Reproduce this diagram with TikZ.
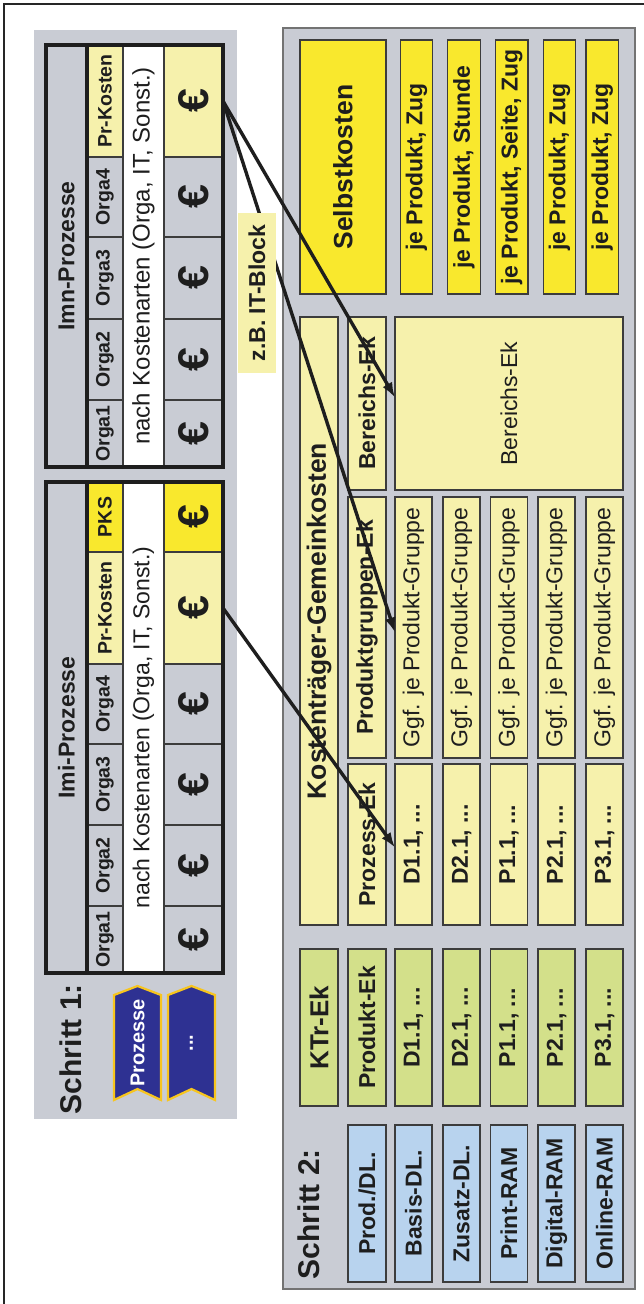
\documentclass[tikz,border=0pt]{standalone}
\usepackage{fontspec}
\setmainfont{Liberation Sans}
\usepackage{graphicx}
\usetikzlibrary{arrows.meta}
\definecolor{panel}{HTML}{C9CCD4}
\definecolor{paleyellow}{HTML}{F6F1AC}
\definecolor{sunyellow}{HTML}{F9E82D}
\definecolor{lime}{HTML}{D3E08A}
\definecolor{sky}{HTML}{B8D3EE}
\definecolor{navy}{HTML}{2E3192}
\definecolor{gold}{HTML}{F7C51E}
\definecolor{ink}{HTML}{1E1E1E}
\definecolor{rule}{HTML}{3C3C3C}
\newcommand{\vtext}[1]{\rotatebox{90}{#1}}

\begin{document}
\begin{tikzpicture}[
  x=1pt,y=-1pt,
  every node/.style={inner sep=0pt,outer sep=0pt,text=ink},
  box/.style={draw=rule,line width=1.3pt,font=\fontsize{23}{25}\selectfont\bfseries},
  col/.style={box,minimum width=37pt},
  tcell/.style={draw=rule,line width=1.1pt,fill=panel,font=\fontsize{19.5}{21}\selectfont\bfseries},
  orga/.style={tcell,minimum width=36pt},
  euro/.style={tcell,minimum width=59pt,font=\fontsize{43}{43}\selectfont\bfseries},
  tblframe/.style={draw=ink,line width=3.3pt},
  ribbon/.style={fill=navy,draw=gold,line width=2.2pt,line join=miter},
  schritt/.style={font=\fontsize{30}{32}\selectfont\bfseries},
  conn/.style={-{Latex[length=15pt,width=11pt]},draw=ink,line width=3.4pt}
]
\useasboundingbox (0,0) rectangle (644,1304);
\draw[line width=1.3pt,black!85] (4,1304) -- (4,4) -- (644,4);

% Schritt 1
\fill[panel] (34,30) rectangle (237,1119);
\node[schritt] (s1) at (71,1049) {\vtext{Schritt 1:}};

% Imn-Prozesse
\node[tcell,minimum width=41pt,minimum height=422pt,font=\fontsize{23}{25}\selectfont\bfseries] (imnHead) at (66.5,256) {\vtext{Imn-Prozesse}};
\node[orga,fill=paleyellow,minimum height=112pt] (imnPK) at (105,101) {\vtext{Pr-Kosten}};
\node[orga,minimum height=80pt] (imnO4) at (105,197) {\vtext{Orga4}};
\node[orga,minimum height=82pt] (imnO3) at (105,278) {\vtext{Orga3}};
\node[orga,minimum height=81pt] (imnO2) at (105,359.5) {\vtext{Orga2}};
\node[orga,minimum height=67pt] (imnO1) at (105,433.5) {\vtext{Orga1}};
\node[tcell,fill=white,minimum width=41pt,minimum height=422pt,font=\fontsize{24}{26}\selectfont] (imnKA) at (143.5,256) {\vtext{nach Kostenarten (Orga, IT, Sonst.)}};
\node[euro,fill=paleyellow,minimum height=112pt] (imnEuroPK) at (193.5,101) {\vtext{€}};
\node[euro,minimum height=80pt] (imnEuro4) at (193.5,197) {\vtext{€}};
\node[euro,minimum height=82pt] (imnEuro3) at (193.5,278) {\vtext{€}};
\node[euro,minimum height=81pt] (imnEuro2) at (193.5,359.5) {\vtext{€}};
\node[euro,minimum height=67pt] (imnEuro1) at (193.5,433.5) {\vtext{€}};
\draw[tblframe] (46,45) rectangle (223,467);
\draw[tblframe] (87,45) -- (87,467);

% Imi-Prozesse
\node[tcell,minimum width=41pt,minimum height=491pt,font=\fontsize{23}{25}\selectfont\bfseries] (imiHead) at (66.5,727.5) {\vtext{Imi-Prozesse}};
\node[orga,fill=sunyellow,minimum height=70pt] (imiPKS) at (105,517) {\vtext{PKS}};
\node[orga,fill=paleyellow,minimum height=112pt] (imiPK) at (105,608) {\vtext{Pr-Kosten}};
\node[orga,minimum height=80pt] (imiO4) at (105,704) {\vtext{Orga4}};
\node[orga,minimum height=81pt] (imiO3) at (105,784.5) {\vtext{Orga3}};
\node[orga,minimum height=81pt] (imiO2) at (105,865.5) {\vtext{Orga2}};
\node[orga,minimum height=67pt] (imiO1) at (105,939.5) {\vtext{Orga1}};
\node[tcell,fill=white,minimum width=41pt,minimum height=491pt,font=\fontsize{23}{25}\selectfont] (imiKA) at (143.5,727.5) {\vtext{nach Kostenarten (Orga, IT, Sonst.)}};
\node[euro,fill=sunyellow,minimum height=70pt] (imiEuroPKS) at (193.5,517) {\vtext{€}};
\node[euro,fill=paleyellow,minimum height=112pt] (imiEuroPK) at (193.5,608) {\vtext{€}};
\node[euro,minimum height=80pt] (imiEuro4) at (193.5,704) {\vtext{€}};
\node[euro,minimum height=81pt] (imiEuro3) at (193.5,784.5) {\vtext{€}};
\node[euro,minimum height=81pt] (imiEuro2) at (193.5,865.5) {\vtext{€}};
\node[euro,minimum height=67pt] (imiEuro1) at (193.5,939.5) {\vtext{€}};
\draw[tblframe] (46,482) rectangle (223,973);
\draw[tblframe] (87,482) -- (87,973);

% Bänder
\draw[ribbon] (114,995) -- (137.5,986) -- (161,995) -- (161,1100) -- (137.5,1089) -- (114,1100) -- cycle;
\node[font=\fontsize{20}{22}\selectfont\bfseries,text=white] (rib1) at (137.5,1043) {\vtext{Prozesse}};
\draw[ribbon] (168,995) -- (191.5,986) -- (215,995) -- (215,1100) -- (191.5,1089) -- (168,1100) -- cycle;
\node[font=\fontsize{20}{22}\selectfont\bfseries,text=white] (rib2) at (191.5,1043) {\vtext{...}};

% Schritt 2
\draw[fill=panel,draw=black!55,line width=1.6pt] (283,28) rectangle (635,1289);
\node[schritt] (s2) at (308.5,1214) {\vtext{Schritt 2:}};

\node[box,fill=sunyellow,minimum width=86pt,minimum height=254pt,font=\fontsize{26.5}{28}\selectfont\bfseries] (selbst) at (343,167) {\vtext{Selbstkosten}};
\node[box,fill=sunyellow,minimum width=32.5pt,minimum height=254pt] (je1) at (416.5,167) {\vtext{je Produkt, Zug}};
\node[box,fill=sunyellow,minimum width=32.5pt,minimum height=254pt] (je2) at (464,167) {\vtext{je Produkt, Stunde}};
\node[box,fill=sunyellow,minimum width=32.5pt,minimum height=254pt] (je3) at (511.7,167) {\vtext{je Produkt, Seite, Zug}};
\node[box,fill=sunyellow,minimum width=32.5pt,minimum height=254pt] (je4) at (559.5,167) {\vtext{je Produkt, Zug}};
\node[box,fill=sunyellow,minimum width=32.5pt,minimum height=254pt] (je5) at (602.2,167) {\vtext{je Produkt, Zug}};

\node[col,fill=paleyellow,minimum width=38pt,minimum height=608pt,font=\fontsize{26.5}{28}\selectfont\bfseries] (ktrGK) at (319,621) {\vtext{Kostenträger-Gemeinkosten}};
\node[col,fill=lime,minimum width=38pt,minimum height=157pt,font=\fontsize{26}{28}\selectfont\bfseries] (ktrEk) at (319,1027.5) {\vtext{KTr-Ek}};

\node[col,fill=paleyellow,minimum width=38pt,minimum height=173pt] (bereichEk) at (367,403.5) {\vtext{Bereichs-Ek}};
\node[col,fill=paleyellow,minimum width=38pt,minimum height=261pt] (pgEk) at (367,627.5) {\vtext{Produktgruppen-Ek}};
\node[col,fill=paleyellow,minimum width=38pt,minimum height=161pt] (prozEk) at (367,844.5) {\vtext{Prozess-Ek}};
\node[col,fill=lime,minimum width=38pt,minimum height=157pt] (produktEk) at (367,1027.5) {\vtext{Produkt-Ek}};
\node[col,fill=sky,minimum width=38pt,minimum height=157pt] (prodDL) at (367,1203.5) {\vtext{Prod./DL.}};

\node[box,fill=paleyellow,minimum width=228pt,minimum height=173pt,font=\fontsize{23}{25}\selectfont] (bereichBig) at (509,403.5) {\vtext{Bereichs-Ek}};

\node[col,fill=paleyellow,minimum height=261pt,font=\fontsize{23}{25}\selectfont] (ggf1) at (413.5,627.5) {\vtext{Ggf. je Produkt-Gruppe}};
\node[col,fill=paleyellow,minimum height=261pt,font=\fontsize{23}{25}\selectfont] (ggf2) at (461.5,627.5) {\vtext{Ggf. je Produkt-Gruppe}};
\node[col,fill=paleyellow,minimum height=261pt,font=\fontsize{23}{25}\selectfont] (ggf3) at (509,627.5) {\vtext{Ggf. je Produkt-Gruppe}};
\node[col,fill=paleyellow,minimum height=261pt,font=\fontsize{23}{25}\selectfont] (ggf4) at (556.5,627.5) {\vtext{Ggf. je Produkt-Gruppe}};
\node[col,fill=paleyellow,minimum height=261pt,font=\fontsize{23}{25}\selectfont] (ggf5) at (604.5,627.5) {\vtext{Ggf. je Produkt-Gruppe}};

\node[col,fill=paleyellow,minimum height=161pt] (proz1) at (413.5,844.5) {\vtext{D1.1, ...}};
\node[col,fill=paleyellow,minimum height=161pt] (proz2) at (461.5,844.5) {\vtext{D2.1, ...}};
\node[col,fill=paleyellow,minimum height=161pt] (proz3) at (509,844.5) {\vtext{P1.1, ...}};
\node[col,fill=paleyellow,minimum height=161pt] (proz4) at (556.5,844.5) {\vtext{P2.1, ...}};
\node[col,fill=paleyellow,minimum height=161pt] (proz5) at (604.5,844.5) {\vtext{P3.1, ...}};

\node[col,fill=lime,minimum height=157pt] (prod1) at (413.5,1027.5) {\vtext{D1.1, ...}};
\node[col,fill=lime,minimum height=157pt] (prod2) at (461.5,1027.5) {\vtext{D2.1, ...}};
\node[col,fill=lime,minimum height=157pt] (prod3) at (509,1027.5) {\vtext{P1.1, ...}};
\node[col,fill=lime,minimum height=157pt] (prod4) at (556.5,1027.5) {\vtext{P2.1, ...}};
\node[col,fill=lime,minimum height=157pt] (prod5) at (604.5,1027.5) {\vtext{P3.1, ...}};

\node[col,fill=sky,minimum height=157pt] (dl1) at (413.5,1203.5) {\vtext{Basis-DL.}};
\node[col,fill=sky,minimum height=157pt] (dl2) at (461.5,1203.5) {\vtext{Zusatz-DL.}};
\node[col,fill=sky,minimum height=157pt] (dl3) at (509,1203.5) {\vtext{Print-RAM}};
\node[col,fill=sky,minimum height=157pt] (dl4) at (556.5,1203.5) {\vtext{Digital-RAM}};
\node[col,fill=sky,minimum height=157pt] (dl5) at (604.5,1203.5) {\vtext{Online-RAM}};

% Zuordnung
\draw[conn] (imnEuroPK.east) -- ([yshift=6pt]bereichBig.west);
\draw[conn] (imnEuroPK.east) -- ([yshift=-5pt]ggf1.west);
\draw[conn] (imiEuroPK.east) -- ([yshift=-3pt]proz1.west);
\node[fill=paleyellow,minimum width=38pt,minimum height=160pt,font=\fontsize{23}{25}\selectfont\bfseries] (itBlock) at (257,293) {\vtext{z.B. IT-Block}};
\end{tikzpicture}
\end{document}
